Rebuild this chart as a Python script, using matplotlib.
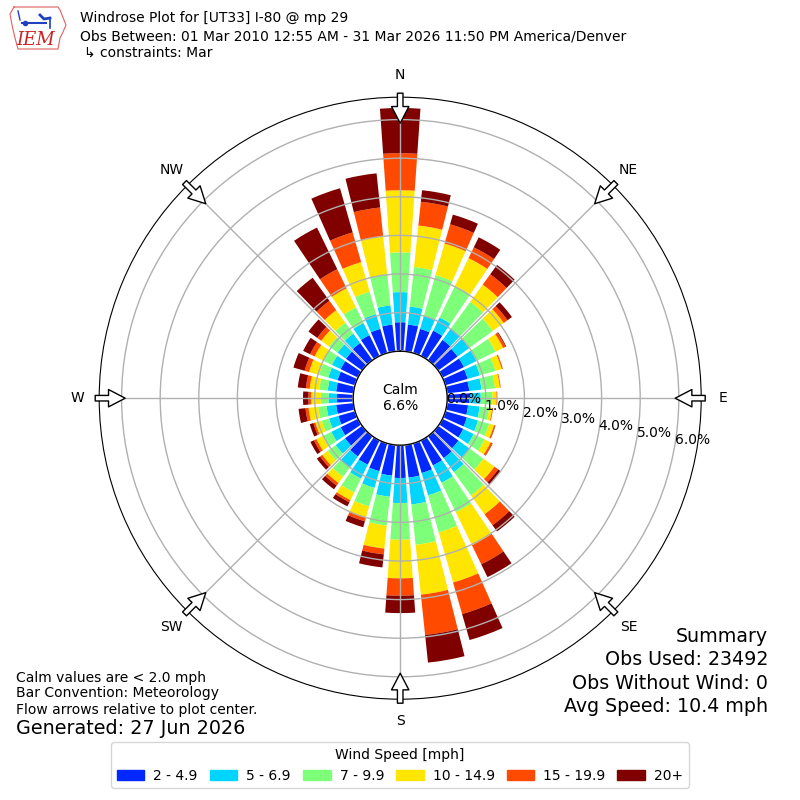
import numpy as np
import matplotlib
matplotlib.use("Agg")
import matplotlib.pyplot as plt
from matplotlib.patches import Patch

# ---------------- data (percent of obs) ----------------
directions = np.arange(0, 360, 10)
speed_bins = ['2 - 4.9', '5 - 6.9', '7 - 9.9', '10 - 14.9', '15 - 19.9', '20+']
bin_colors = ['#0028ff', '#00d4ff', '#7dff7a', '#ffe600', '#ff4a00', '#800000']

s_2_5 = [0.75, 0.70, 0.65, 0.73, 0.65, 0.62, 0.62, 0.60, 0.58, 0.57, 0.55, 0.58,
         0.60, 0.65, 0.70, 0.72, 0.80, 0.85, 0.85, 0.80, 0.75, 0.70, 0.65, 0.55,
         0.50, 0.45, 0.45, 0.42, 0.45, 0.47, 0.50, 0.52, 0.55, 0.60, 0.65, 0.70]
s_5_7 = [0.78, 0.47, 0.35, 0.38, 0.37, 0.38, 0.36, 0.33, 0.32, 0.30, 0.30, 0.30,
         0.30, 0.35, 0.45, 0.50, 0.60, 0.70, 0.65, 0.55, 0.45, 0.40, 0.35, 0.30,
         0.27, 0.25, 0.25, 0.22, 0.22, 0.25, 0.25, 0.27, 0.30, 0.35, 0.40, 0.50]
s_7_10 = [1.03, 1.03, 1.10, 0.91, 0.85, 0.75, 0.55, 0.42, 0.35, 0.30, 0.25, 0.30,
          0.32, 0.45, 0.75, 0.85, 1.00, 1.05, 0.95, 0.75, 0.50, 0.40, 0.30, 0.25,
          0.25, 0.20, 0.22, 0.20, 0.22, 0.25, 0.25, 0.27, 0.35, 0.45, 0.60, 0.80]
s_10_15 = [1.61, 1.08, 0.85, 0.80, 0.55, 0.35, 0.22, 0.17, 0.13, 0.11, 0.08, 0.13,
           0.17, 0.35, 0.60, 0.95, 1.35, 1.30, 1.00, 0.60, 0.30, 0.22, 0.20, 0.18,
           0.18, 0.17, 0.25, 0.25, 0.25, 0.27, 0.25, 0.25, 0.40, 0.55, 0.80, 1.00]
s_15_20 = [0.96, 0.62, 0.52, 0.31, 0.33, 0.12, 0.07, 0.03, 0.02, 0.02, 0.02, 0.03,
           0.05, 0.12, 0.35, 0.55, 0.85, 1.05, 0.45, 0.15, 0.10, 0.06, 0.08, 0.07,
           0.07, 0.05, 0.08, 0.07, 0.10, 0.12, 0.13, 0.13, 0.30, 0.55, 0.80, 0.75]
s_20p = [1.17, 0.30, 0.26, 0.29, 0.30, 0.14, 0.02, 0.00, 0.00, 0.00, 0.00, 0.01,
         0.01, 0.08, 0.20, 0.37, 0.70, 0.72, 0.45, 0.34, 0.16, 0.12, 0.12, 0.10,
         0.10, 0.10, 0.18, 0.14, 0.21, 0.30, 0.20, 0.28, 0.74, 1.20, 1.19, 0.89]

calm_pct = 6.6
ring_pct = [0, 1, 2, 3, 4, 5, 6]
compass = ['N', 'NE', 'E', 'SE', 'S', 'SW', 'W', 'NW']

# ---------------- figure ----------------
fig = plt.figure(figsize=(8, 8), dpi=100)
ax = fig.add_axes([0.124, 0.126, 0.7525, 0.7525], projection='polar')
ax.set_theta_zero_location('N')
ax.set_theta_direction(-1)

offset = 47 / 38.6
rmax = 301 / 38.6
ax.set_ylim(0, rmax)

table = [s_2_5, s_5_7, s_7_10, s_10_15, s_15_20, s_20p]
theta = np.radians(directions)
base = np.zeros(len(directions)) + offset
for vals, col in zip(table, bin_colors):
    vals = np.array(vals)
    ax.bar(theta, vals, width=np.radians(8), bottom=base, color=col,
           edgecolor='none', zorder=2)
    base = base + vals

# grid
ax.set_yticks([offset + r for r in ring_pct])
ax.set_yticklabels([])
ax.set_xticks(np.radians(np.arange(0, 360, 45)))
ax.set_xticklabels([])
ax.grid(True, color='#b0b0b0', lw=1)
ax.set_axisbelow(False)
for gl in ax.xaxis.get_gridlines() + ax.yaxis.get_gridlines():
    gl.set_zorder(3)

# calm circle
tt = np.linspace(0, 2 * np.pi, 300)
ax.fill(tt, np.full_like(tt, offset), color='white', zorder=4)
ax.plot(tt, np.full_like(tt, offset), color='black', lw=1, zorder=5)
ax.text(0, 0, 'Calm\n%.1f%%' % calm_pct, ha='center', va='center',
        fontsize=10, zorder=6)

# ring labels
for r in ring_pct:
    ax.text(np.radians(100), offset + r, '%.1f%%' % r, ha='left', va='bottom',
            fontsize=10, zorder=6)

# compass labels and flow arrows
for i, lab in enumerate(compass):
    ang = np.radians(i * 45)
    ax.text(ang, 323 / 38.6, lab, ha='center', va='center', fontsize=10,
            clip_on=False)
    ax.annotate('', xy=(ang, 275 / 38.6), xytext=(ang, 305 / 38.6),
                arrowprops=dict(arrowstyle='simple,head_length=1.2,head_width=1.25,tail_width=0.4',
                                fc='white', ec='black', lw=1, shrinkA=0, shrinkB=0),
                annotation_clip=False, zorder=7)

ax.spines['polar'].set_color('black')

# logo
lax = fig.add_axes([0, 0.935, 0.1, 0.065])
lax.set_xlim(0, 80)
lax.set_ylim(52, 0)
lax.axis('off')
lax.plot([14, 58, 60, 62, 66, 63, 60, 58, 18, 15, 12, 10, 14],
         [7, 7, 10, 15, 25, 32, 38, 49, 49, 38, 25, 14, 7],
         color='#e06060', lw=0.8)
lax.plot([22, 46], [23, 23], color='#2040c0', lw=1.5)
lax.plot([40, 44, 50], [15, 19, 18], color='#2040c0', lw=2)
lax.plot([50, 50], [18, 28], color='#2040c0', lw=1.2)
lax.plot([18, 20], [11, 20], color='#2040c0', lw=1)
lax.plot([25], [23], 'o', color='#2040c0', ms=3)
lax.text(16, 45, 'IEM', color='#cc2222', fontsize=13, style='italic',
         family='DejaVu Serif')

# header
fig.text(0.1, 0.977, 'Windrose Plot for [UT33] I-80 @ mp 29', fontsize=10, va='center')
fig.text(0.1, 0.954, 'Obs Between: 01 Mar 2010 12:55 AM - 31 Mar 2026 11:50 PM America/Denver',
         fontsize=10, va='center')
fig.text(0.105, 0.934, '\u21b3 constraints: Mar', fontsize=10, va='center')

# footer text
fig.text(0.02, 0.153, 'Calm values are < 2.0 mph', fontsize=10, va='center')
fig.text(0.02, 0.134, 'Bar Convention: Meteorology', fontsize=10, va='center')
fig.text(0.02, 0.113, 'Flow arrows relative to plot center.', fontsize=10, va='center')
fig.text(0.02, 0.089, 'Generated: 27 Jun 2026', fontsize=13.8, va='center')

fig.text(0.96, 0.205, 'Summary', fontsize=13.7, ha='right', va='center')
fig.text(0.96, 0.176, 'Obs Used: 23492', fontsize=13.7, ha='right', va='center')
fig.text(0.96, 0.146, 'Obs Without Wind: 0', fontsize=13.7, ha='right', va='center')
fig.text(0.96, 0.117, 'Avg Speed: 10.4 mph', fontsize=13.7, ha='right', va='center')

handles = [Patch(color=c, label=l) for c, l in zip(bin_colors, speed_bins)]
fig.legend(handles=handles, loc='lower center', bbox_to_anchor=(0.5, 0.006),
           ncol=6, title='Wind Speed [mph]', fontsize=10, title_fontsize=10,
           columnspacing=0.85, handletextpad=0.65)

fig.savefig('out.png', dpi=100)
